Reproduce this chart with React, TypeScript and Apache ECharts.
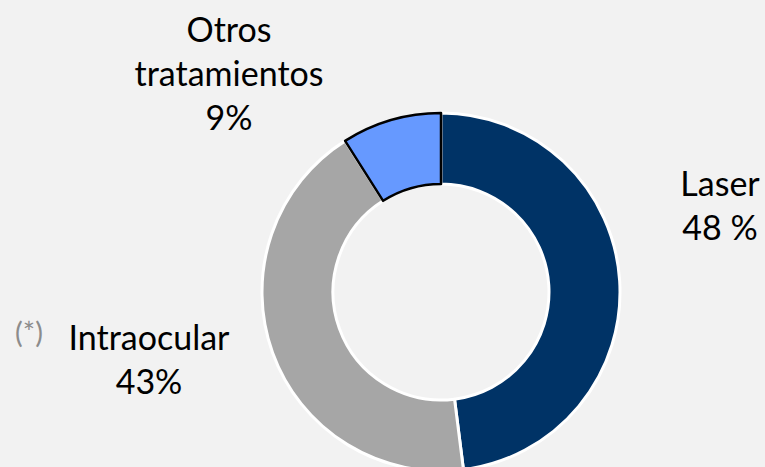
import React, { useEffect, useRef } from "react";
import * as echarts from "echarts";

const categories = ["Laser", "Intraocular", "Otros\ntratamientos"];
const values = [48, 43, 9];
const valueLabels = ["48 %", "43%", "9%"];
const colors = ["#003366", "#A6A6A6", "#6699FF"];
const borderColors = ["#FFFFFF", "#FFFFFF", "#000000"];
const borderWidths = [3, 3, 2.5];
const labelCenters: [number, number][] = [
  [720, 204],
  [149, 358],
  [229, 72],
];
const note = "(*)";

export default function App() {
  const ref = useRef<HTMLDivElement>(null);
  useEffect(() => {
    document.body.style.margin = "0";
    const chart = echarts.init(ref.current!, null, { renderer: "svg" });
    chart.setOption({
      animation: false,
      backgroundColor: "#F2F2F2",
      textStyle: { fontFamily: "Lato" },
      graphic: [
        {
          type: "text",
          x: 29,
          y: 331,
          style: {
            text: note,
            fill: "#8C8C8C",
            fontSize: 29,
            fontFamily: "Lato",
            align: "center",
            verticalAlign: "middle",
          },
        },
      ],
      series: [
        {
          type: "pie",
          center: [441, 292],
          radius: [108, 179],
          startAngle: 90,
          clockwise: true,
          avoidLabelOverlap: false,
          labelLine: { show: false },
          label: {
            show: true,
            position: "outside",
            fontSize: 34,
            lineHeight: 44,
            color: "#000000",
            fontFamily: "Lato",
            align: "center",
            formatter: (p: any) => `${p.name}\n${valueLabels[p.dataIndex]}`,
          },
          labelLayout: (p: any) => ({
            x: labelCenters[p.dataIndex][0],
            y: labelCenters[p.dataIndex][1],
            align: "center",
            verticalAlign: "middle",
          }),
          data: categories.map((c, i) => ({
            name: c,
            value: values[i],
            itemStyle: {
              color: colors[i],
              borderColor: borderColors[i],
              borderWidth: borderWidths[i],
            },
          })),
        },
      ],
    });
    return () => chart.dispose();
  }, []);
  return <div ref={ref} style={{ width: 765, height: 467 }} />;
}
